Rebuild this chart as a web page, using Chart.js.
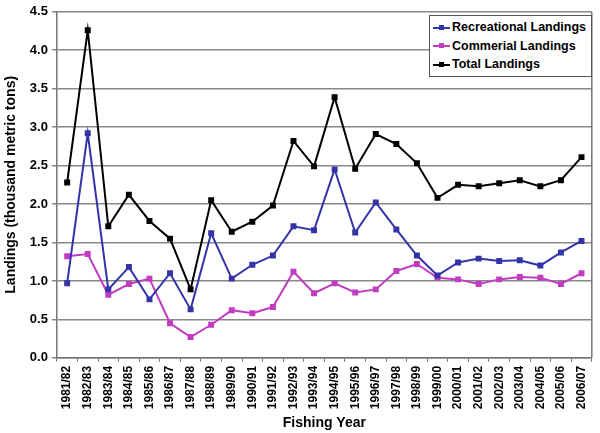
<!DOCTYPE html>
<html>
<head>
<meta charset="utf-8">
<script src="https://cdn.jsdelivr.net/npm/chart.js@4.4.1/dist/chart.umd.min.js"></script>
<style>
  body { margin: 0; background: #fff; }
  #wrap { position: relative; width: 600px; height: 433px; }
  #legend {
    position: absolute; left: 429px; top: 15px; width: 163px;
    border: 1px solid #555; background: #fff;
    font: bold 12.5px "Liberation Sans", Arial, sans-serif; color: #000;
    padding: 2px 0 2px 3px; box-sizing: border-box;
  }
  #legend div { height: 18.5px; line-height: 18.5px; white-space: nowrap; }
  #legend span.sw { display: inline-block; width: 17px; height: 2px; vertical-align: middle; position: relative; margin-right: 2px; }
  #legend span.sw i { position: absolute; left: 6px; top: -2px; width: 5px; height: 5px; }
</style>
</head>
<body>
<div id="wrap">
  <canvas id="landingsChart" width="600" height="433"></canvas>
  <div id="legend"></div>
</div>
<script>
// fishing years along the x axis
var years = ['1981/82', '1982/83', '1983/84', '1984/85', '1985/86', '1986/87', '1987/88',
  '1988/89', '1989/90', '1990/91', '1991/92', '1992/93', '1993/94', '1994/95', '1995/96',
  '1996/97', '1997/98', '1998/99', '1999/00', '2000/01', '2001/02', '2002/03', '2003/04',
  '2004/05', '2005/06', '2006/07'];

// landings, thousand metric tons
var recreational = [0.97, 2.92, 0.89, 1.18, 0.76, 1.10, 0.63, 1.62, 1.03, 1.21, 1.33, 1.71, 1.66,
  2.45, 1.63, 2.02, 1.67, 1.33, 1.07, 1.24, 1.29, 1.26, 1.27, 1.20, 1.37, 1.52];
var commercial = [1.32, 1.35, 0.82, 0.96, 1.03, 0.45, 0.27, 0.43, 0.62, 0.58, 0.66, 1.12, 0.84,
  0.97, 0.85, 0.89, 1.13, 1.22, 1.04, 1.02, 0.96, 1.02, 1.05, 1.04, 0.96, 1.10];
var total = [2.28, 4.26, 1.71, 2.12, 1.78, 1.55, 0.89, 2.05, 1.64, 1.77, 1.98, 2.82, 2.49,
  3.39, 2.46, 2.91, 2.78, 2.53, 2.08, 2.25, 2.23, 2.27, 2.31, 2.23, 2.31, 2.61];

var fontFamily = '"Liberation Sans", Arial, sans-serif';

function makeSet(label, data, color) {
  return {
    label: label,
    data: data,
    borderColor: color,
    backgroundColor: color,
    borderWidth: 2,
    pointStyle: 'rect',
    pointRadius: 2.8,
    pointHoverRadius: 2.8,
    tension: 0,
    fill: false
  };
}

var ctx = document.getElementById('landingsChart').getContext('2d');
var myChart = new Chart(ctx, {
  type: 'line',
  data: {
    labels: years,
    datasets: [
      makeSet('Recreational Landings', recreational, '#3434a8'),
      makeSet('Commerial Landings', commercial, '#c23cc2'),
      makeSet('Total Landings', total, '#000000')
    ]
  },
  options: {
    responsive: false,
    animation: false,
    layout: { padding: { top: 0, right: 3, left: 3, bottom: 0 } },
    plugins: {
      legend: { display: false },
      tooltip: { enabled: false }
    },
    scales: {
      x: {
        offset: true,
        grid: { display: true, drawOnChartArea: false, drawTicks: true, tickLength: 4, color: '#777', lineWidth: 1, offset: true },
        border: { color: '#777', width: 1.5 },
        ticks: {
          color: '#000', maxRotation: 90, minRotation: 90, autoSkip: false, padding: 4,
          font: { family: fontFamily, size: 12, weight: 'bold' }
        },
        title: {
          display: true, text: 'Fishing Year', color: '#000', padding: { top: 2, bottom: 1 },
          font: { family: fontFamily, size: 14, weight: 'bold' }
        }
      },
      y: {
        min: 0, max: 4.5,
        grid: { color: '#888', lineWidth: 1.5, tickLength: 5 },
        border: { color: '#777', width: 1.5 },
        ticks: {
          stepSize: 0.5, color: '#000', padding: 4,
          font: { family: fontFamily, size: 13, weight: 'bold' },
          callback: function (v) { return v.toFixed(1); }
        },
        title: {
          display: true, text: 'Landings (thousand metric tons)', color: '#000', padding: { top: 0, bottom: 6 },
          font: { family: fontFamily, size: 14, weight: 'bold' }
        }
      }
    }
  },
  plugins: [{
    id: 'rightBorder',
    afterDraw: function (chart) {
      var a = chart.chartArea, c = chart.ctx;
      c.save();
      c.strokeStyle = '#777';
      c.lineWidth = 1.5;
      c.beginPath();
      c.moveTo(a.right, a.top);
      c.lineTo(a.right, a.bottom);
      c.stroke();
      c.restore();
    }
  }]
});

// legend inside the plot, top right
var legend = document.getElementById('legend');
myChart.data.datasets.forEach(function (ds) {
  var row = document.createElement('div');
  row.innerHTML = '<span class="sw" style="background:' + ds.borderColor + '"><i style="background:' +
    ds.borderColor + '"></i></span>' + ds.label;
  legend.appendChild(row);
});
</script>
</body>
</html>
